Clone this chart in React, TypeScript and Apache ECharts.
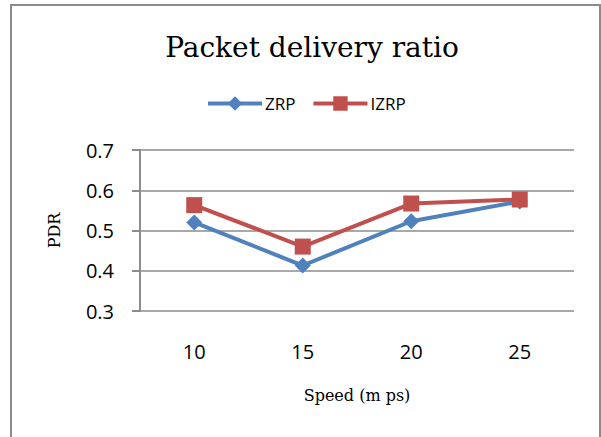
import React, { useEffect, useRef } from "react";
import * as echarts from "echarts";

const categories = ["10", "15", "20", "25"];
const zrp = [0.52, 0.413, 0.523, 0.572];
const izrp = [0.563, 0.46, 0.567, 0.577];
const yTicks = { min: 0.3, max: 0.7, interval: 0.1 };

export default function App() {
  const ref = useRef<HTMLDivElement>(null);
  useEffect(() => {
    if (!ref.current) return;
    const chart = echarts.init(ref.current, null, { renderer: "svg" });
    chart.setOption({
      animation: false,
      backgroundColor: "#ffffff",
      graphic: [
        {
          type: "rect",
          shape: { x: 11, y: 5, width: 589, height: 440 },
          style: { fill: "none", stroke: "#8c8c8c", lineWidth: 2 },
          silent: true,
        },
      ],
      title: {
        text: "Packet delivery ratio",
        left: 307,
        textAlign: "center",
        top: 28,
        textStyle: {
          fontFamily: "DejaVu Serif",
          fontWeight: "normal",
          fontSize: 28,
          color: "#000",
        },
      },
      legend: {
        top: 90,
        left: 201,
        itemWidth: 54,
        itemHeight: 18,
        itemGap: 16,
        lineStyle: { width: 4 },
        textStyle: { fontFamily: "Open Sans", fontSize: 17, color: "#000", padding: [0, 0, 0, -2] },
        data: ["ZRP", "IZRP"],
      },
      grid: { left: 140, right: 27, top: 150, bottom: 126 },
      xAxis: {
        type: "category",
        data: categories,
        boundaryGap: true,
        name: "Speed (m ps)",
        nameLocation: "middle",
        nameGap: 76,
        nameTextStyle: { fontFamily: "DejaVu Serif", fontSize: 16, color: "#000" },
        axisLine: { show: false },
        axisTick: { show: false },
        axisLabel: { fontFamily: "Open Sans", fontSize: 20, color: "#000", margin: 30 },
      },
      yAxis: {
        type: "value",
        min: yTicks.min,
        max: yTicks.max,
        interval: yTicks.interval,
        name: "PDR",
        nameLocation: "middle",
        nameGap: 78,
        nameTextStyle: { fontFamily: "DejaVu Serif", fontSize: 16, color: "#000" },
        axisLine: { show: true, lineStyle: { color: "#8c8c8c", width: 2 } },
        axisTick: { show: true, length: 8, lineStyle: { color: "#8c8c8c", width: 2 } },
        splitLine: { lineStyle: { color: "#8c8c8c", width: 1.5 } },
        axisLabel: {
          fontFamily: "Open Sans",
          fontSize: 20,
          color: "#000",
          margin: 26,
          formatter: (v: number) => v.toFixed(1),
        },
      },
      series: [
        {
          name: "ZRP",
          type: "line",
          data: zrp,
          symbol: "diamond",
          symbolSize: 16,
          lineStyle: { color: "#4F81BD", width: 4 },
          itemStyle: { color: "#4F81BD" },
        },
        {
          name: "IZRP",
          type: "line",
          data: izrp,
          symbol: "rect",
          symbolSize: 16,
          lineStyle: { color: "#C0504D", width: 4 },
          itemStyle: { color: "#C0504D" },
        },
      ],
    });
    return () => chart.dispose();
  }, []);
  return <div ref={ref} style={{ width: 601, height: 437, position: "absolute", left: 0, top: 0 }} />;
}
